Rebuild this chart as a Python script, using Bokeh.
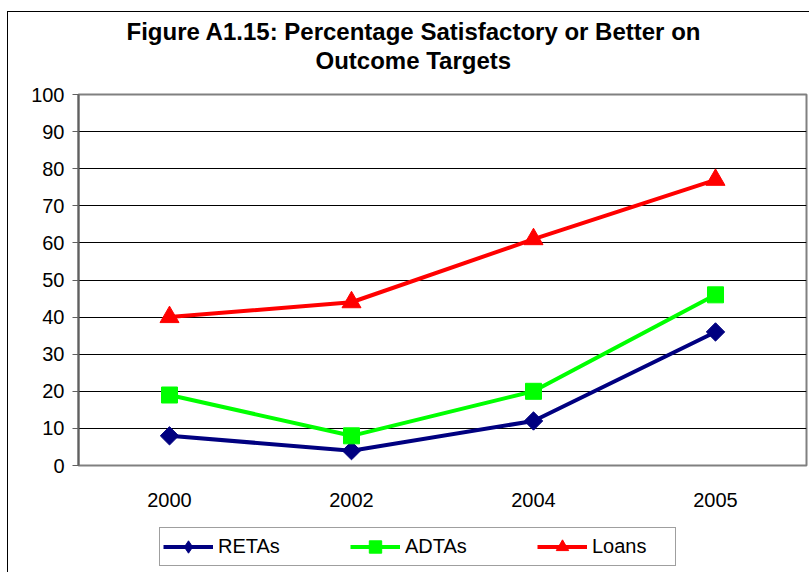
import math
from bokeh.plotting import figure
from bokeh.layouts import column
from bokeh.models import (Range1d, FactorRange, Legend, LegendItem, FixedTicker, Title)
from bokeh.embed import file_html
from bokeh.resources import INLINE

years = ["2000", "2002", "2004", "2005"]
retas = [8, 4, 12, 36]
adtas = [19, 8, 20, 46]
loans = [40, 44, 61, 77]
y_ticks = list(range(0, 101, 10))
title_line1 = "Figure A1.15: Percentage Satisfactory or Better on"
title_line2 = "Outcome Targets"

FONT = "Liberation Sans"
COLORS = {"RETAs": "#000080", "ADTAs": "#00FF00", "Loans": "#FF0000"}
W = 801

# ---- title strip ----
tf = figure(width=W, height=70, output_backend="svg", toolbar_location=None,
            x_range=Range1d(0, 1), y_range=Range1d(0, 1), x_axis_type=None, y_axis_type=None,
            min_border_left=0, min_border_right=0, min_border_top=61, min_border_bottom=0)
tf.outline_line_color = None
tf.background_fill_color = "white"
tf.border_fill_color = "white"
tf.title.text = title_line1
tf.title.align = "left"
tf.title.offset = 48
tf.title.text_font = FONT
tf.title.text_font_size = "24px"
tf.title.text_font_style = "bold"
tf.title.text_color = "black"
tf.title.standoff = 0
tf.add_layout(Title(text=title_line2, align="left", offset=237, text_font=FONT,
                    text_font_size="24px", text_font_style="bold", text_color="black",
                    standoff=0), "above")

# ---- main chart ----
p = figure(x_range=FactorRange(*years), y_range=Range1d(0, 100), title=None,
           width=W, height=433, output_backend="svg", toolbar_location=None,
           min_border_left=70, min_border_right=3, min_border_top=12, min_border_bottom=50)

p.outline_line_color = "#808080"
p.outline_line_width = 2
p.background_fill_color = "white"
p.border_fill_color = "white"

p.xgrid.grid_line_color = None
p.ygrid.grid_line_color = "black"
p.ygrid.grid_line_width = 1
p.ygrid.ticker = FixedTicker(ticks=y_ticks)

p.yaxis.ticker = FixedTicker(ticks=y_ticks)
p.yaxis.axis_line_color = "#606060"
p.yaxis.axis_line_width = 2
p.yaxis.major_tick_line_color = "#606060"
p.yaxis.major_tick_out = 6
p.yaxis.major_tick_in = 0
p.yaxis.minor_tick_line_color = None
p.yaxis.major_label_standoff = 8
p.yaxis.major_label_text_font = FONT
p.yaxis.major_label_text_font_size = "20px"
p.yaxis.major_label_text_color = "black"

p.xaxis.axis_line_color = None
p.xaxis.major_tick_line_color = None
p.xaxis.minor_tick_line_color = None
p.xaxis.major_label_standoff = 21
p.xaxis.major_label_text_font = FONT
p.xaxis.major_label_text_font_size = "20px"
p.xaxis.major_label_text_color = "black"


def add_series(fig, ys, key, marker, size, angle=0.0):
    ln = fig.line(years, ys, line_color=COLORS[key], line_width=4)
    sc = fig.scatter(years, ys, marker=marker, angle=angle, size=size, color=COLORS[key])
    return ln, sc


add_series(p, retas, "RETAs", "square", 13, math.pi / 4)
add_series(p, adtas, "ADTAs", "square", 16)
add_series(p, loans, "Loans", "triangle", 19)

# ---- legend strip (same series drawn out of view, only the legend shows) ----
lg = figure(width=W, height=57, output_backend="svg", toolbar_location=None, title=None,
            x_range=FactorRange(*years), y_range=Range1d(1000, 1001),
            x_axis_type=None, y_axis_type=None,
            min_border_left=0, min_border_right=0, min_border_top=0, min_border_bottom=0)
lg.outline_line_color = None
lg.background_fill_color = "white"
lg.border_fill_color = "white"
r1 = add_series(lg, retas, "RETAs", "diamond", 18)
r2 = add_series(lg, adtas, "ADTAs", "square", 16)
r3 = add_series(lg, loans, "Loans", "triangle", 19)

legend = Legend(items=[
    LegendItem(label="RETAs", renderers=list(r1)),
    LegendItem(label="ADTAs", renderers=list(r2)),
    LegendItem(label="Loans", renderers=list(r3)),
], orientation="horizontal", location=(81, 6))
legend.label_text_font = FONT
legend.label_text_font_size = "20px"
legend.label_text_color = "black"
legend.glyph_width = 50
legend.glyph_height = 31
legend.label_standoff = 5
legend.label_width = 80
legend.spacing = 52
legend.padding = 3
legend.margin = 0
legend.border_line_color = "#404040"
legend.border_line_width = 1
legend.background_fill_color = "white"
lg.add_layout(legend, "center")

layout = column(tf, p, lg, spacing=0,
                styles={"border-top": "1px solid black", "border-left": "1px solid black",
                        "margin-top": "11px", "margin-left": "7px"})

open("out.html", "w").write(file_html(layout, INLINE))
